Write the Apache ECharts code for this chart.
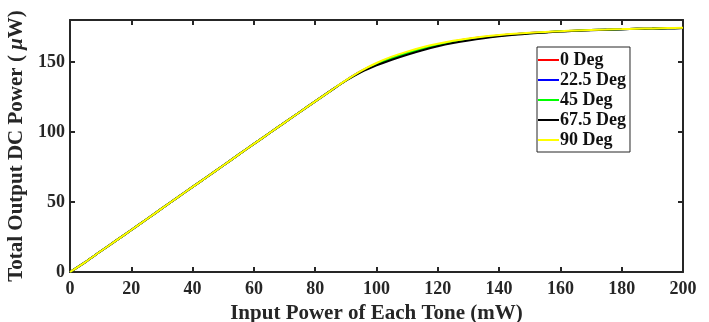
<!DOCTYPE html>
<html><head><meta charset="utf-8">
<script src="https://cdn.jsdelivr.net/npm/echarts@6/dist/echarts.min.js"></script>
<style>html,body{margin:0;padding:0;background:#fff}#c{width:709px;height:322px}</style>
</head><body><div id="c"></div>
<script>
const inputPower = [0,5,10,15,20,25,30,35,40,45,50,55,60,65,70,75,80,85,90,95,100,105,110,115,120,125,130,135,140,145,150,155,160,165,170,175,180,185,190,195,200];
const deg0   = [0,7.1,14.8,22.4,30,37.7,45.4,53.1,60.8,68.4,76.1,83.8,91.5,99.1,106.7,114.3,121.9,129.4,136.8,143.4,148.8,153.2,156.9,160,162.5,164.6,166.4,167.8,169,169.9,170.7,171.3,171.9,172.4,172.8,173.1,173.4,173.7,173.9,174.1,174.3];
const deg22  = [0,7.1,14.8,22.4,30,37.7,45.4,53.1,60.8,68.4,76.1,83.8,91.5,99.1,106.7,114.3,121.9,129.4,136.8,143.4,148.6,153,156.7,159.8,162.4,164.5,166.3,167.7,168.9,169.9,170.7,171.3,171.9,172.4,172.8,173.1,173.4,173.7,173.9,174.1,174.3];
const deg45  = [0,7.1,14.8,22.4,30,37.7,45.4,53.1,60.8,68.4,76.1,83.8,91.5,99.1,106.7,114.3,121.9,129.4,136.8,143.2,148.3,152.6,156.3,159.4,162.1,164.3,166.1,167.6,168.8,169.8,170.6,171.3,171.9,172.4,172.8,173.1,173.4,173.7,173.9,174.1,174.3];
const deg67  = [0,7.1,14.8,22.4,30,37.7,45.4,53.1,60.8,68.4,76.1,83.8,91.5,99.1,106.7,114.3,121.9,129.4,136.6,142.8,147.6,151.6,155.2,158.4,161.2,163.5,165.4,167,168.3,169.4,170.3,171.1,171.7,172.3,172.7,173.1,173.4,173.7,173.9,174.1,174.3];
const deg90  = [0,7.1,14.8,22.4,30,37.7,45.4,53.1,60.8,68.4,76.1,83.8,91.5,99.1,106.7,114.3,121.9,129.4,136.9,143.7,149.3,153.8,157.4,160.5,163,165.1,166.8,168.2,169.3,170.2,170.9,171.5,172,172.5,172.9,173.2,173.5,173.8,174,174.2,174.4];
const seriesNames = ['0 Deg','22.5 Deg','45 Deg','67.5 Deg','90 Deg'];
const seriesColors = ['#ff0000','#0000ff','#00ff00','#000000','#ffff00'];
const xTicks = [0,20,40,60,80,100,120,140,160,180,200];
const yTicks = [0,50,100,150];

const font = 'Liberation Serif';
const allData = [deg0, deg22, deg45, deg67, deg90];
const frameColor = '#262626';
const axisLine = {show:true, onZero:false, lineStyle:{color:frameColor, width:2}};
const tick = {inside:true, length:5, lineStyle:{color:frameColor, width:2}};
const chart = echarts.init(document.getElementById('c'), null, {renderer:'canvas'});
chart.setOption({
  animation:false,
  backgroundColor:'#fff',
  grid:{left:70, right:26, top:20, bottom:50, containLabel:false, outerBoundsMode:'none'},
  legend:{
    orient:'vertical', left:537, top:47, data:seriesNames,
    icon:'rect', itemWidth:21, itemHeight:2, itemGap:0,
    backgroundColor:'#fff', borderColor:frameColor, borderWidth:1, padding:[3,4,2,1],
    textStyle:{fontFamily:font, fontWeight:'bold', fontSize:18, lineHeight:20, color:'#111', padding:[0,0,0,-4]}
  },
  xAxis:[{
    type:'value', min:0, max:200, interval:20,
    name:'Input Power of Each Tone (mW)', nameLocation:'middle', nameGap:30,
    nameTextStyle:{fontFamily:font, fontWeight:'bold', fontSize:21, color:frameColor},
    axisLine:axisLine, axisTick:tick,
    axisLabel:{fontFamily:font, fontWeight:'bold', fontSize:18, color:frameColor, margin:8,
      formatter:v=> xTicks.includes(v) ? String(v) : ''},
    splitLine:{show:false}
  },{
    type:'value', position:'top', min:0, max:200, interval:20,
    axisLine:axisLine, axisTick:tick,
    axisLabel:{show:false}, splitLine:{show:false}
  }],
  yAxis:[{
    type:'value', min:0, max:180, interval:50,
    name:'{a|Total Output DC Power ( }{b|μ}{a|W)}', nameLocation:'middle', nameGap:33, nameRotate:90,
    nameTextStyle:{rich:{
      a:{fontFamily:font, fontWeight:'bold', fontSize:21, color:frameColor},
      b:{fontFamily:font, fontWeight:'bold', fontStyle:'italic', fontSize:21, color:frameColor}
    }},
    axisLine:axisLine, axisTick:tick,
    axisLabel:{fontFamily:font, fontWeight:'bold', fontSize:18, color:frameColor, margin:5,
      formatter:v=> yTicks.includes(v) ? String(v) : ''},
    splitLine:{show:false}
  },{
    type:'value', position:'right', min:0, max:180, interval:50,
    axisLine:axisLine, axisTick:tick,
    axisLabel:{show:false}, splitLine:{show:false}
  }],
  series: seriesNames.map((n,i)=>({
    name:n, type:'line', xAxisIndex:0, yAxisIndex:0, showSymbol:false, smooth:0.3,
    color:seriesColors[i], lineStyle:{width:2, color:seriesColors[i]},
    data: inputPower.map((x,j)=>[x, allData[i][j]])
  }))
});
</script></body></html>
